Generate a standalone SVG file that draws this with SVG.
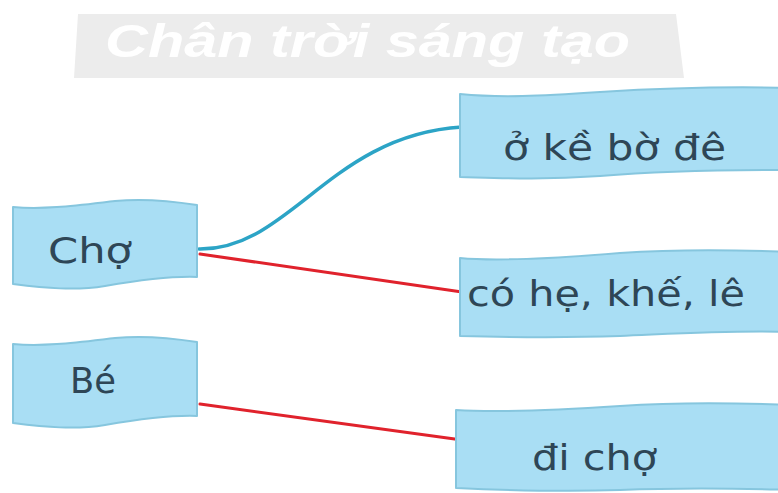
<svg xmlns="http://www.w3.org/2000/svg" width="778" height="493" viewBox="0 0 778 493">
<style>
.box{fill:#a9def4;stroke:#86c6de;stroke-width:2;stroke-linejoin:round}
.lbl{font-family:"DejaVu Sans","Liberation Sans",sans-serif;font-size:35px;fill:#2e4656}
.wm{font-family:"Liberation Sans",sans-serif;font-style:italic;font-weight:bold;font-size:46px;fill:#ffffff}
.blue{fill:none;stroke:#2ca4c6;stroke-width:3.5;stroke-linecap:round}
.red{fill:none;stroke:#e0222c;stroke-width:3;stroke-linecap:round}
</style>
<rect width="778" height="493" fill="#ffffff"/>
<g id="watermark">
<path d="M78,14 L676,14 L684,78 L74,78 Z" fill="#ececec"/>
<text class="wm" x="105" y="57" textLength="525" lengthAdjust="spacingAndGlyphs">Chân trời sáng tạo</text>
</g>
<g id="connectors">
<path class="blue" d="M199,249 C290,250 330,135 462,127"/>
<path class="red" d="M200,254 L462,292"/>
<path class="red" d="M200,404 L462,440"/>
</g>
<g id="node-cho">
<path class="box" d="M13,207 C45,210 80,205 115,201 C145,198 172,201 197,205 L197,277 C170,276 140,280 105,286 C75,291 45,288 13,284 Z"/>
<text class="lbl" x="48" y="263" textLength="84" lengthAdjust="spacingAndGlyphs">Chợ</text>
</g>
<g id="node-be">
<path class="box" d="M13,344 C45,347 80,342 115,338 C145,335 172,338 197,342 L197,416 C170,415 140,419 105,425 C75,430 45,427 13,423 Z"/>
<text class="lbl" x="70" y="393" textLength="46" lengthAdjust="spacingAndGlyphs">Bé</text>
</g>
<g id="node-o-ke-bo-de">
<path class="box" d="M460,94 C500,98 540,96 600,92 C650,89 720,86 790,88 L790,170 C720,170 650,172 600,176 C540,180 500,178 460,177 Z"/>
<text class="lbl" x="503" y="160" textLength="223" lengthAdjust="spacingAndGlyphs">ở kề bờ đê</text>
</g>
<g id="node-co-he-khe-le">
<path class="box" d="M460,258 C500,262 560,258 620,253 C680,249 740,250 790,252 L790,332 C730,330 670,334 620,336 C560,338 500,337 460,336 Z"/>
<text class="lbl" x="467" y="306" textLength="278" lengthAdjust="spacingAndGlyphs">có hẹ, khế, lê</text>
</g>
<g id="node-di-cho">
<path class="box" d="M456,410 C500,413 560,410 620,406 C680,402 740,403 790,405 L790,490 C730,488 670,488 620,490 C560,492 500,490 456,488 Z"/>
<text class="lbl" x="532" y="470" textLength="125" lengthAdjust="spacingAndGlyphs">đi chợ</text>
</g>
</svg>
